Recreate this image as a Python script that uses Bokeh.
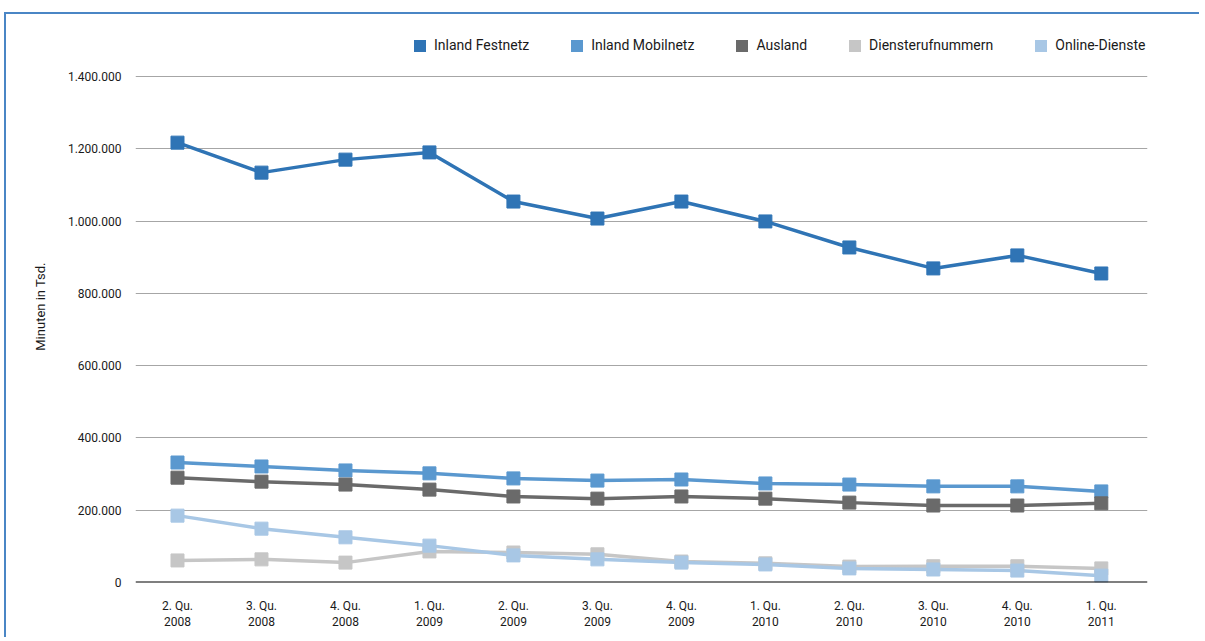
from bokeh.plotting import figure
from bokeh.models import FixedTicker, Legend, LegendItem, Span
from bokeh.embed import file_html
from bokeh.resources import INLINE

quarters = ["2. Qu.\n2008", "3. Qu.\n2008", "4. Qu.\n2008", "1. Qu.\n2009", "2. Qu.\n2009", "3. Qu.\n2009",
            "4. Qu.\n2009", "1. Qu.\n2010", "2. Qu.\n2010", "3. Qu.\n2010", "4. Qu.\n2010", "1. Qu.\n2011"]
festnetz = [1217000, 1134000, 1170000, 1190000, 1054000, 1007000, 1054000, 999000, 927000, 869000, 905000, 855000]
mobilnetz = [332000, 321000, 310000, 302000, 288000, 282000, 285000, 274000, 271000, 266000, 266000, 252000]
ausland = [290000, 279000, 271000, 257000, 238000, 232000, 238000, 232000, 221000, 213000, 213000, 219000]
dienste = [61000, 64000, 55000, 86000, 83000, 78000, 58000, 53000, 44000, 45000, 45000, 39000]
online = [185000, 149000, 125000, 102000, 75000, 64000, 55000, 50000, 39000, 36000, 33000, 19000]
y_ticks = [0, 200000, 400000, 600000, 800000, 1000000, 1200000, 1400000]
y_tick_labels = ["0", "200.000", "400.000", "600.000", "800.000", "1.000.000", "1.200.000", "1.400.000"]

series = [
    ("Inland Festnetz", festnetz, "#2f74b5"),
    ("Inland Mobilnetz", mobilnetz, "#5a98cf"),
    ("Ausland", ausland, "#6a6a6a"),
    ("Diensterufnummern", dienste, "#c6c6c6"),
    ("Online-Dienste", online, "#a8c7e5"),
]

FONT = "Roboto"

# frame: 1.400.000 gridline 506 px above the zero line; frame extended upward for the legend
FRAME_H = 552
Y_TOP = 1400000 * FRAME_H / 506

p = figure(width=1195, height=625, output_backend="svg", toolbar_location=None,
           x_range=(-0.5, 11.55), y_range=(0, Y_TOP),
           min_border_left=129, min_border_right=54, min_border_top=16, min_border_bottom=57)
p.styles = {"border-left": "2px solid #4a86c5", "border-top": "2px solid #4a86c5",
            "margin-left": "4px", "margin-top": "12px"}
p.outline_line_color = None
p.background_fill_color = "white"

xs = list(range(len(quarters)))
items = []
for name, vals, col in series:
    p.line(xs, vals, line_color=col, line_width=3.5)
for name, vals, col in series:
    p.scatter(xs, vals, marker="square", size=13, fill_color=col, line_color=col)
    # zero-area quad at the first point (invisible): gives the legend a full square swatch
    sw = p.quad(left=xs[:1], right=xs[:1], top=vals[:1], bottom=vals[:1],
                fill_color=col, line_color=None)
    items.append(LegendItem(label=name, renderers=[sw]))

p.add_layout(Span(location=0, dimension="width", line_color="black", line_width=2))

p.xaxis.ticker = FixedTicker(ticks=xs)
p.xaxis.major_label_overrides = {i: q for i, q in enumerate(quarters)}
p.xaxis.axis_line_color = None
p.xaxis.major_tick_line_color = None
p.xaxis.minor_tick_line_color = None
p.xaxis.major_label_text_font = FONT
p.xaxis.major_label_text_font_size = "12px"
p.xaxis.major_label_text_color = "#1a1a1a"
p.xaxis.major_label_standoff = 10
p.xgrid.grid_line_color = None

p.yaxis.ticker = FixedTicker(ticks=y_ticks)
p.yaxis.major_label_overrides = {t: l for t, l in zip(y_ticks, y_tick_labels)}
p.yaxis.axis_line_color = None
p.yaxis.major_tick_line_color = None
p.yaxis.minor_tick_line_color = None
p.yaxis.major_label_text_font = FONT
p.yaxis.major_label_text_font_size = "12px"
p.yaxis.major_label_text_color = "#1a1a1a"
p.yaxis.major_label_standoff = 8
p.yaxis.axis_label = "Minuten in Tsd."
p.yaxis.axis_label_text_font = FONT
p.yaxis.axis_label_text_font_size = "13px"
p.yaxis.axis_label_text_font_style = "normal"
p.yaxis.axis_label_text_color = "#1a1a1a"
p.yaxis.axis_label_standoff = 17
p.ygrid.grid_line_color = "#a6a6a6"
p.ygrid.grid_line_width = 1

legend = Legend(items=items, orientation="horizontal", location=(277, 529),
                label_text_font=FONT, label_text_font_size="14px", label_text_color="#1a1a1a",
                glyph_width=15, glyph_height=15, label_standoff=7, spacing=40,
                border_line_color=None, background_fill_alpha=0, margin=0, padding=0)
p.add_layout(legend, "center")

open("out.html", "w").write(file_html(p, INLINE))
